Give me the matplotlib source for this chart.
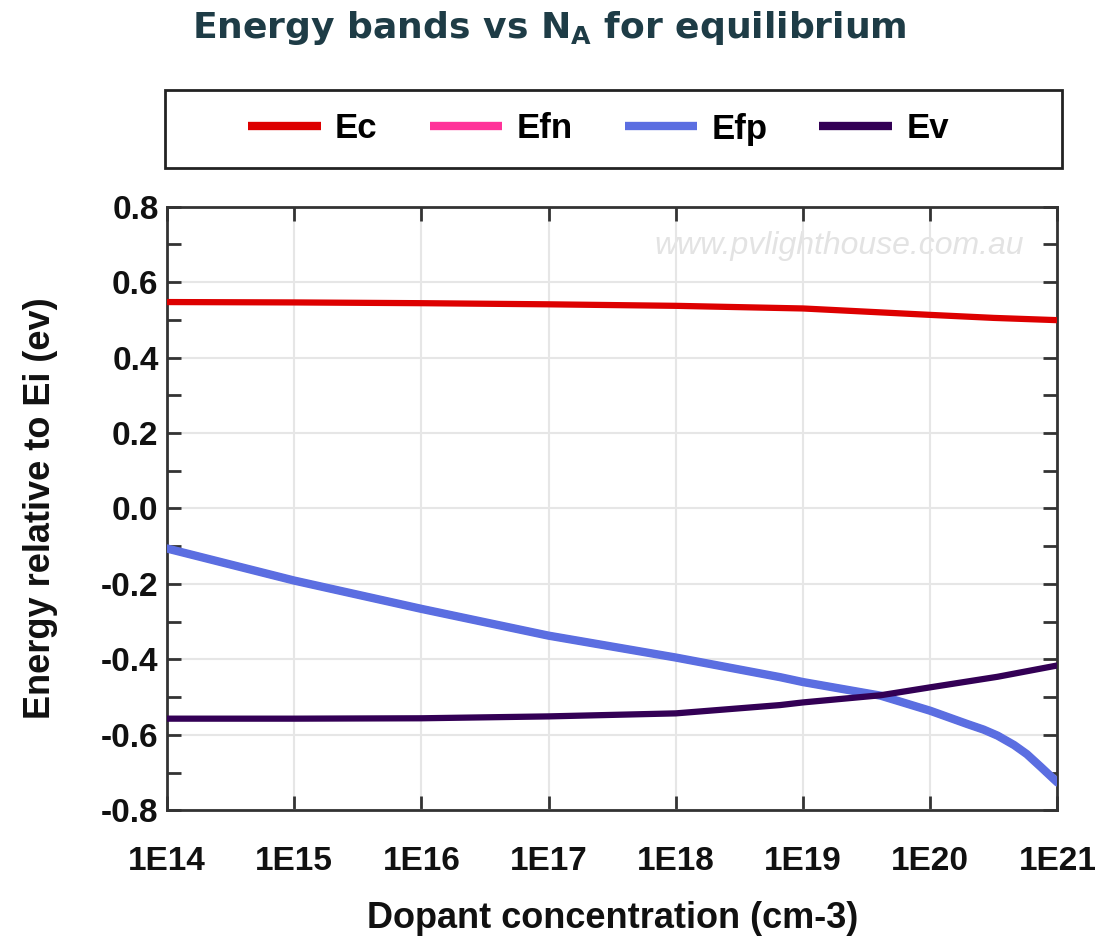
import matplotlib
matplotlib.use("Agg")
import matplotlib.pyplot as plt
from matplotlib.patches import Rectangle
from matplotlib.ticker import FixedLocator, MultipleLocator, NullLocator

# Dopant concentration (log10 of cm-3) at which each band energy was read
ec_logn = [14, 15, 16, 17, 18, 19, 20, 20.5, 21]
ec_vals = [0.547, 0.546, 0.544, 0.541, 0.537, 0.530, 0.513, 0.505, 0.499]

ev_logn = [14, 15, 16, 17, 18, 18.82, 19, 19.61, 20, 20.53, 21]
ev_vals = [-0.557, -0.557, -0.556, -0.551, -0.543, -0.521, -0.514, -0.495,
           -0.474, -0.446, -0.416]

efp_logn = [14, 15, 16, 17, 18, 18.82, 19, 19.61, 20, 20.29, 20.42, 20.53,
            20.66, 20.76, 20.87, 21]
efp_vals = [-0.106, -0.191, -0.266, -0.337, -0.395, -0.447, -0.460, -0.496,
            -0.536, -0.571, -0.586, -0.602, -0.627, -0.651, -0.685, -0.726]

# In equilibrium the quasi-Fermi levels coincide
efn_logn = efp_logn
efn_vals = efp_vals

x_tick_exps = [14, 15, 16, 17, 18, 19, 20, 21]
x_tick_labels = [f"1E{e}" for e in x_tick_exps]
y_ticks = [-0.8, -0.6, -0.4, -0.2, 0.0, 0.2, 0.4, 0.6, 0.8]

plt.rcParams["mathtext.fontset"] = "custom"
plt.rcParams["mathtext.rm"] = "DejaVu Sans:bold"

fig = plt.figure(figsize=(10.98, 9.39), dpi=100)
ax = fig.add_axes([0.152, 0.137, 0.811, 0.643])

def to_n(exps):
    return [10.0 ** e for e in exps]

ax.set_xscale("log")
ax.set_xlim(1e14, 1e21)
ax.set_ylim(-0.8, 0.8)

ax.grid(True, which="major", color="#e6e6e6", lw=1.5, zorder=0)

l_ec, = ax.plot(to_n(ec_logn), ec_vals, color="#dd0000", lw=4.5,
                solid_capstyle="round", solid_joinstyle="round",
                label="Ec", zorder=3)
l_efn, = ax.plot(to_n(efn_logn), efn_vals, color="#ff3399", lw=5,
                 solid_capstyle="round", solid_joinstyle="round",
                 label="Efn", zorder=3)
l_efp, = ax.plot(to_n(efp_logn), efp_vals, color="#5b6ee1", lw=6,
                 solid_capstyle="round", solid_joinstyle="round",
                 label="Efp", zorder=4)
l_ev, = ax.plot(to_n(ev_logn), ev_vals, color="#330055", lw=4.5,
                solid_capstyle="round", solid_joinstyle="round",
                label="Ev", zorder=5)

# Axis ticks and labels
ax.xaxis.set_major_locator(FixedLocator(to_n(x_tick_exps)))
ax.xaxis.set_minor_locator(NullLocator())
ax.set_xticklabels(x_tick_labels)
ax.yaxis.set_major_locator(FixedLocator(y_ticks))
ax.yaxis.set_minor_locator(MultipleLocator(0.1))
ax.set_yticklabels([f"{v:.1f}" for v in y_ticks])

for lab in ax.get_xticklabels() + ax.get_yticklabels():
    lab.set_fontfamily("Liberation Sans")
    lab.set_fontweight("bold")
    lab.set_fontsize(24)
    lab.set_color("#111111")

ax.tick_params(axis="both", which="both", direction="in", color="#333333",
               width=2, top=True, right=True)
ax.tick_params(axis="both", which="major", length=10)
ax.tick_params(axis="y", which="minor", length=10)
ax.tick_params(axis="x", which="major", pad=26)
ax.tick_params(axis="y", which="major", pad=6)

for sp in ax.spines.values():
    sp.set_color("#333333")
    sp.set_linewidth(2)

ax.set_xlabel("Dopant concentration (cm-3)", fontfamily="Liberation Sans",
              fontweight="bold", fontsize=26, color="#111111", labelpad=17)
ax.set_ylabel("Energy relative to Ei (ev)", fontfamily="Liberation Sans",
              fontweight="bold", fontsize=26, color="#111111", labelpad=31)

# Watermark
ax.text(0.962, 0.935, "www.pvlighthouse.com.au", transform=ax.transAxes,
        ha="right", va="center", fontsize=23, style="italic",
        fontfamily="Liberation Sans", color="#e3e3e3", zorder=1)

# Title
fig.text(0.5, 0.970, r"Energy bands vs N$_\mathrm{A}$ for equilibrium",
         ha="center", va="center", fontsize=26, fontweight="bold",
         fontfamily="DejaVu Sans", color="#1e3c46")

# Legend in a framed box above the axes
bx0, by0 = 165 / 1098, 1 - 168 / 939
bw, bh = (1062 - 165) / 1098, 78 / 939
fig.patches.append(Rectangle((bx0, by0), bw, bh, transform=fig.transFigure,
                             fill=False, edgecolor="#222222", lw=2))
leg = fig.legend(handles=[l_ec, l_efn, l_efp, l_ev], ncol=4, frameon=False,
                 loc="center",
                 bbox_to_anchor=(bx0 + bw / 2 - 0.0137, by0 + bh / 2),
                 prop=dict(family="Liberation Sans", weight="bold", size=25),
                 handlelength=2.1, handletextpad=0.4, columnspacing=1.5)
for h in leg.get_lines():
    h.set_linewidth(6)
    h.set_solid_capstyle("butt")

fig.savefig("out.png", dpi=100)
